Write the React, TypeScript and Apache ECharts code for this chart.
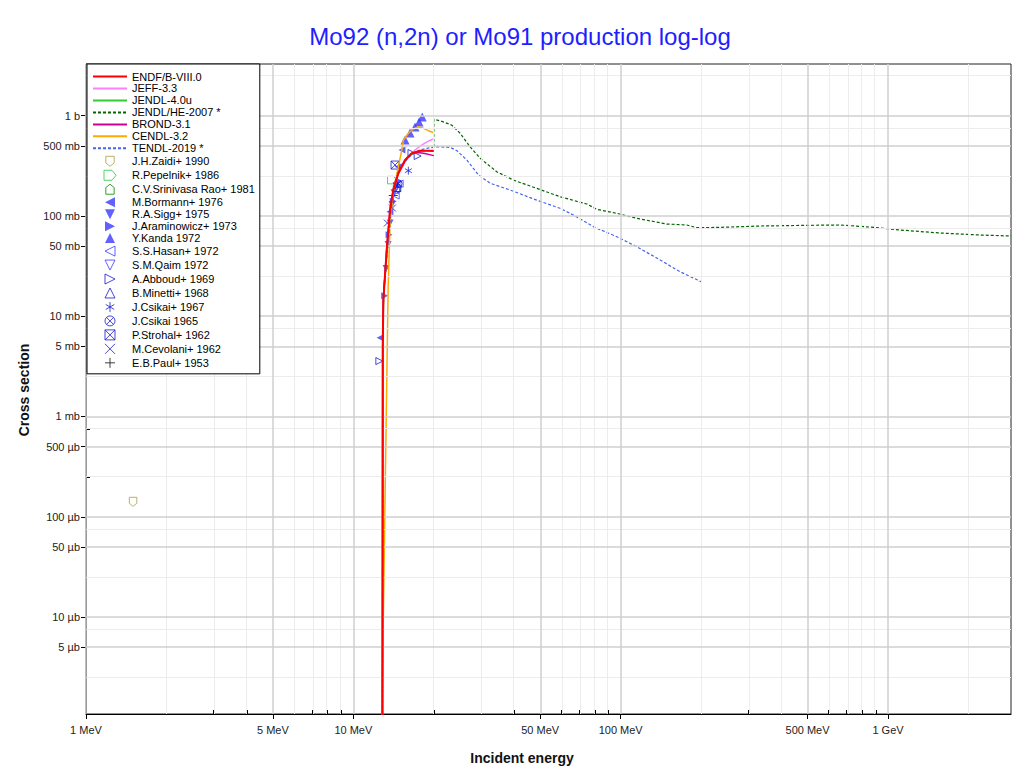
import React, { useEffect, useRef } from 'react';
import * as echarts from 'echarts';

// ---------- axis ticks ----------
const xMajorTicks = [1, 5, 10, 50, 100, 500, 1000];
const xMajorLabels = ['1 MeV', '5 MeV', '10 MeV', '50 MeV', '100 MeV', '500 MeV', '1 GeV'];
const xMinorTicks = [2, 3, 4, 6, 7, 8, 9, 20, 30, 40, 60, 70, 80, 90, 200, 300, 400, 600, 700, 800, 900, 2000];
const yMajorTicks = [5e-6, 1e-5, 5e-5, 1e-4, 5e-4, 1e-3, 5e-3, 1e-2, 5e-2, 0.1, 0.5, 1];
const yMajorLabels = ['5 µb', '10 µb', '50 µb', '100 µb', '500 µb', '1 mb', '5 mb', '10 mb', '50 mb', '100 mb', '500 mb', '1 b'];
const yMinorTicks = [2.5e-6, 7.5e-6, 2.5e-5, 7.5e-5, 2.5e-4, 7.5e-4, 2.5e-3, 7.5e-3, 2.5e-2, 7.5e-2, 0.25, 0.75, 2.5];

// ---------- evaluated data (E in MeV, sigma in b) ----------
const endfE = [12.83, 12.88, 12.95, 13.33, 13.72, 14.11, 14.74, 15.61, 16.54, 17.77, 19.0, 20.0];
const endfXS = [1e-8, 0.005, 0.0145, 0.0458, 0.115, 0.182, 0.268, 0.362, 0.422, 0.448, 0.447, 0.444];

const jeffE = [12.83, 12.88, 12.95, 13.33, 13.72, 14.11, 14.74, 15.61, 16.3, 17.0, 18.0, 19.0, 20.0];
const jeffXS = [1e-8, 0.005, 0.0145, 0.046, 0.113, 0.178, 0.26, 0.345, 0.4, 0.455, 0.51, 0.555, 0.59];

const jendl4E = [12.83, 12.9, 13.0, 13.5, 14.0, 14.5, 15.0, 16.0, 17.0, 18.0, 20.0];
const jendl4XS = [1e-8, 0.008, 0.018, 0.06, 0.16, 0.24, 0.3, 0.39, 0.43, 0.445, 0.45];

const jendlHeE = [20.0, 20.0, 21.1, 23.3, 25.1, 27.3, 29.8, 34.4, 39.7, 48.5, 59.3, 74.7, 81.4, 96.7, 114.9, 148.8, 176.7, 192.6, 235.4, 332, 469, 662, 857, 1110, 1566, 2210, 2887];
const jendlHeXS = [0.49, 0.921, 0.891, 0.808, 0.668, 0.491, 0.376, 0.276, 0.228, 0.1887, 0.1556, 0.1316, 0.1165, 0.1063, 0.0947, 0.0831, 0.0813, 0.0764, 0.077, 0.0794, 0.0805, 0.0813, 0.0775, 0.0724, 0.0676, 0.0646, 0.0631];

const brondE = [12.83, 12.88, 12.95, 13.33, 13.72, 14.11, 14.74, 15.61, 16.5, 17.5, 18.5, 20.0];
const brondXS = [1e-8, 0.005, 0.015, 0.047, 0.117, 0.185, 0.27, 0.36, 0.42, 0.43, 0.42, 0.4];

const cendlE = [12.76, 13.49, 13.72, 14.11, 14.74, 15.18, 15.39, 16.06, 16.77, 17.51, 18.28, 19.08, 20.0];
const cendlXS = [7e-7, 0.0183, 0.085, 0.18, 0.31, 0.455, 0.572, 0.668, 0.737, 0.777, 0.749, 0.709, 0.677];

const tendlE = [12.83, 12.9, 13.0, 13.5, 14.0, 14.5, 15.0, 16.0, 17.0, 18.0, 19.0, 20.5, 23.0, 24.4, 26.6, 29.4, 32.5, 38.6, 48.5, 59.3, 66.5, 79.1, 96.7, 114.9, 140.4, 166.8, 200];
const tendlXS = [1e-8, 0.008, 0.018, 0.055, 0.16, 0.235, 0.3, 0.38, 0.43, 0.46, 0.475, 0.49, 0.484, 0.448, 0.361, 0.256, 0.212, 0.1815, 0.144, 0.1193, 0.1022, 0.0781, 0.0621, 0.0494, 0.0364, 0.0278, 0.0221];

// ---------- experimental data (E in MeV, sigma in b) ----------
const zaidiE = [1.5];
const zaidiXS = [1.41e-4];
const pepelnikE = [13.96];
const pepelnikXS = [0.228];
const raoE = [14.57];
const raoXS = [0.194];
const bormannE = [12.59, 13.7, 14.7, 15.2];
const bormannXS = [0.0061, 0.11, 0.31, 0.455];
const siggE = [13.26, 13.49, 13.72, 13.96, 14.2, 14.45];
const siggXS = [0.03, 0.052, 0.085, 0.13, 0.17, 0.2];
const aramE = [13.1, 13.6, 14.1, 14.8];
const aramXS = [0.016, 0.065, 0.14, 0.22];
const kandaE = [15.61, 16.3, 17.01, 17.61, 18.1];
const kandaXS = [0.572, 0.672, 0.772, 0.866, 0.97];
const hasanE = [14.4, 14.9];
const hasanXS = [0.16, 0.21];
const qaimE = [14.7];
const qaimXS = [0.18];
const abboudE = [12.51, 16.5, 17.4];
const abboudXS = [0.00357, 0.425, 0.396];
const minettiE = [14.6];
const minettiXS = [0.19];
const csikai67E = [14.6, 16.06];
const csikai67XS = [0.2, 0.283];
const csikai65E = [14.7];
const csikai65XS = [0.21];
const strohalE = [14.32];
const strohalXS = [0.322];
const cevolaniE = [13.4, 14.0];
const cevolaniXS = [0.085, 0.12];
const paulE = [14.1];
const paulXS = [0.16];

const FONT = 'Liberation Sans, Arial, sans-serif';
const L = Math.log10;
const toPts = (e: number[], s: number[]) => e.map((v, i) => [L(v), L(s[i])]);

const BLUE = '#3a3aff';

const SYM = {
  shield: 'path://M0,0 L10,0 L10,8 L5,12 L0,8 Z',
  houseRight: 'path://M0,0 L8,0 L12,5 L8,10 L0,10 Z',
  houseUp: 'path://M5,0 L10,4 L10,12 L0,12 L0,4 Z',
  triLeft: 'path://M0,5 L10,0 L10,10 Z',
  triRight: 'path://M10,5 L0,0 L0,10 Z',
  triDown: 'path://M0,0 L10,0 L5,10 Z',
  triUp: 'path://M5,0 L10,10 L0,10 Z',
  asterisk: 'path://M5,0 L5,10 M0.7,2.5 L9.3,7.5 M0.7,7.5 L9.3,2.5',
  circleX: 'path://M10,5 A5,5 0 1,1 0,5 A5,5 0 1,1 10,5 Z M1.5,1.5 L8.5,8.5 M8.5,1.5 L1.5,8.5',
  squareX: 'path://M0,0 L10,0 L10,10 L0,10 Z M0,0 L10,10 M10,0 L0,10',
  cross: 'path://M0,0 L10,10 M10,0 L0,10',
  plus: 'path://M5,0 L5,10 M0,5 L10,5',
};

function lineSeries(name: string, e: number[], s: number[], color: string, width: number, dashed: boolean, z: number) {
  return {
    type: 'line', name, data: toPts(e, s), symbol: 'none', showSymbol: false, silent: true, clip: true, z,
    lineStyle: { color, width, type: dashed ? [3, 2] : 'solid' },
    itemStyle: { color: 'transparent', borderColor: 'transparent', borderWidth: 0 },
  };
}

function scatterSeries(name: string, e: number[], s: number[], symbol: string, color: string, filled: boolean, size: number) {
  return {
    type: 'scatter', name, data: toPts(e, s), symbol, symbolSize: size, symbolKeepAspect: true, silent: true, z: 3,
    itemStyle: filled
      ? { color, borderWidth: 0 }
      : { color: 'none', borderColor: color, borderWidth: 1 },
  };
}

const xMin = 0;
const xMax = L(2884);
const yMin = L(1.078e-6);
const yMax = L(3.28);

function fmt(ticks: number[], labels: string[]) {
  return (v: number) => {
    const i = ticks.findIndex((t) => Math.abs(L(t) - v) < 1e-6);
    return i >= 0 ? labels[i] : '';
  };
}

export default function App() {
  const ref = useRef<HTMLDivElement>(null);
  useEffect(() => {
    if (!ref.current) return;
    const chart = echarts.init(ref.current, undefined, { renderer: 'svg' });
    const series: any[] = [
      {
        type: 'line', name: '__gridMinor', data: [], silent: true, z: 0,
        markLine: {
          silent: true, symbol: ['none', 'none'], animation: false, label: { show: false },
          lineStyle: { color: '#ececec', width: 1, type: 'solid' },
          data: [...xMinorTicks.map((v) => ({ xAxis: L(v) })), ...yMinorTicks.map((v) => ({ yAxis: L(v) }))],
        },
      },
      {
        type: 'line', name: '__gridMajor', data: [], silent: true, z: 0,
        markLine: {
          silent: true, symbol: ['none', 'none'], animation: false, label: { show: false },
          lineStyle: { color: '#cfcfcf', width: 1.5, type: 'solid' },
          data: [...xMajorTicks.map((v) => ({ xAxis: L(v) })), ...yMajorTicks.map((v) => ({ yAxis: L(v) }))],
        },
      },
      lineSeries('ENDF/B-VIII.0', endfE, endfXS, '#ff0000', 2, false, 6),
      lineSeries('JEFF-3.3', jeffE, jeffXS, '#ff80ff', 1.5, false, 4),
      lineSeries('JENDL-4.0u', jendl4E, jendl4XS, '#33cc33', 1.5, false, 4),
      lineSeries('JENDL/HE-2007 *', jendlHeE, jendlHeXS, '#006600', 1.2, true, 4),
      lineSeries('BROND-3.1', brondE, brondXS, '#cc0099', 1.5, false, 5),
      lineSeries('CENDL-3.2', cendlE, cendlXS, '#ffaa00', 1.5, false, 4),
      lineSeries('TENDL-2019 *', tendlE, tendlXS, '#4466ee', 1.2, true, 4),
      scatterSeries('J.H.Zaidi+ 1990', zaidiE, zaidiXS, SYM.shield, '#a8a040', false, 9),
      scatterSeries('R.Pepelnik+ 1986', pepelnikE, pepelnikXS, SYM.houseRight, '#22cc44', false, 9),
      scatterSeries('C.V.Srinivasa Rao+ 1981', raoE, raoXS, SYM.houseUp, '#008800', false, 9),
      scatterSeries('M.Bormann+ 1976', bormannE, bormannXS, SYM.triLeft, BLUE, true, 7),
      scatterSeries('R.A.Sigg+ 1975', siggE, siggXS, SYM.triDown, BLUE, true, 7),
      scatterSeries('J.Araminowicz+ 1973', aramE, aramXS, SYM.triRight, BLUE, true, 7),
      scatterSeries('Y.Kanda 1972', kandaE, kandaXS, SYM.triUp, BLUE, true, 9),
      scatterSeries('S.S.Hasan+ 1972', hasanE, hasanXS, SYM.triLeft, BLUE, false, 7),
      scatterSeries('S.M.Qaim 1972', qaimE, qaimXS, SYM.triDown, BLUE, false, 7),
      scatterSeries('A.Abboud+ 1969', abboudE, abboudXS, SYM.triRight, '#1a1acc', false, 7),
      scatterSeries('B.Minetti+ 1968', minettiE, minettiXS, SYM.triUp, '#1a1acc', false, 7),
      scatterSeries('J.Csikai+ 1967', csikai67E, csikai67XS, SYM.asterisk, '#1a1acc', false, 8),
      scatterSeries('J.Csikai 1965', csikai65E, csikai65XS, SYM.circleX, '#1a1acc', false, 8),
      scatterSeries('P.Strohal+ 1962', strohalE, strohalXS, SYM.squareX, '#1a1acc', false, 8),
      scatterSeries('M.Cevolani+ 1962', cevolaniE, cevolaniXS, SYM.cross, '#1a1acc', false, 7),
      scatterSeries('E.B.Paul+ 1953', paulE, paulXS, SYM.plus, '#111111', false, 9),
    ];
    const legendNames = series.filter((s) => !String(s.name).startsWith('__')).map((s) => s.name);

    chart.setOption({
      animation: false,
      backgroundColor: '#ffffff',
      grid: { left: 86, top: 64, width: 925, height: 650, show: true, borderColor: '#222', borderWidth: 1, backgroundColor: 'transparent' },
      legend: {
        orient: 'vertical', left: 87, top: 64, padding: [6, 5, 3.5, 5], itemWidth: 34, itemHeight: 10, itemGap: -1.03,
        backgroundColor: '#ffffff', borderColor: '#000', borderWidth: 1, selectedMode: false, z: 20,
        textStyle: { fontSize: 11, fontFamily: FONT, color: '#000', lineHeight: 13 },
        itemStyle: { borderWidth: 1 },
        data: legendNames,
      },
      xAxis: [
        {
          type: 'value', min: xMin, max: xMax, position: 'bottom',
          axisLine: { show: true, onZero: false, lineStyle: { color: '#000', width: 1 } },
          axisTick: { show: true, inside: false, length: 5, customValues: xMajorTicks.map(L), lineStyle: { color: '#000' } },
          axisLabel: { show: true, customValues: xMajorTicks.map(L), formatter: fmt(xMajorTicks, xMajorLabels), margin: 10, fontSize: 11, fontFamily: FONT, color: '#222' },
          splitLine: { show: false },
        },
        {
          type: 'value', min: xMin, max: xMax, position: 'bottom',
          axisLine: { show: false, onZero: false },
          axisTick: { show: true, inside: true, length: 4, customValues: xMinorTicks.map(L), lineStyle: { color: '#000' } },
          axisLabel: { show: false },
          splitLine: { show: false },
        },
      ],
      yAxis: [
        {
          type: 'value', min: yMin, max: yMax, position: 'left',
          axisLine: { show: true, onZero: false, lineStyle: { color: '#000', width: 1 } },
          axisTick: { show: true, inside: false, length: 5, customValues: yMajorTicks.map(L), lineStyle: { color: '#000' } },
          axisLabel: { show: true, customValues: yMajorTicks.map(L), formatter: fmt(yMajorTicks, yMajorLabels), margin: 6, fontSize: 11, fontFamily: FONT, color: '#222' },
          splitLine: { show: false },
        },
        {
          type: 'value', min: yMin, max: yMax, position: 'left',
          axisLine: { show: false, onZero: false },
          axisTick: { show: true, inside: true, length: 4, customValues: yMinorTicks.map(L), lineStyle: { color: '#000' } },
          axisLabel: { show: false },
          splitLine: { show: false },
        },
      ],
      graphic: [
        { type: 'text', x: 520, y: 36, style: { text: 'Mo92 (n,2n) or Mo91 production log-log', fontSize: 24, fontFamily: FONT, fill: '#1e1eff', align: 'center', verticalAlign: 'middle' } },
        { type: 'text', x: 522, y: 758, style: { text: 'Incident energy', fontSize: 14, fontWeight: 'bold', fontFamily: FONT, fill: '#111', align: 'center', verticalAlign: 'middle' } },
        { type: 'text', x: 24, y: 390, rotation: Math.PI / 2, style: { text: 'Cross section', fontSize: 14, fontWeight: 'bold', fontFamily: FONT, fill: '#111', align: 'center', verticalAlign: 'middle' } },
      ],
      series,
    });
    return () => chart.dispose();
  }, []);
  return <div ref={ref} style={{ position: 'absolute', left: 0, top: 0, width: 1020, height: 774 }} />;
}
